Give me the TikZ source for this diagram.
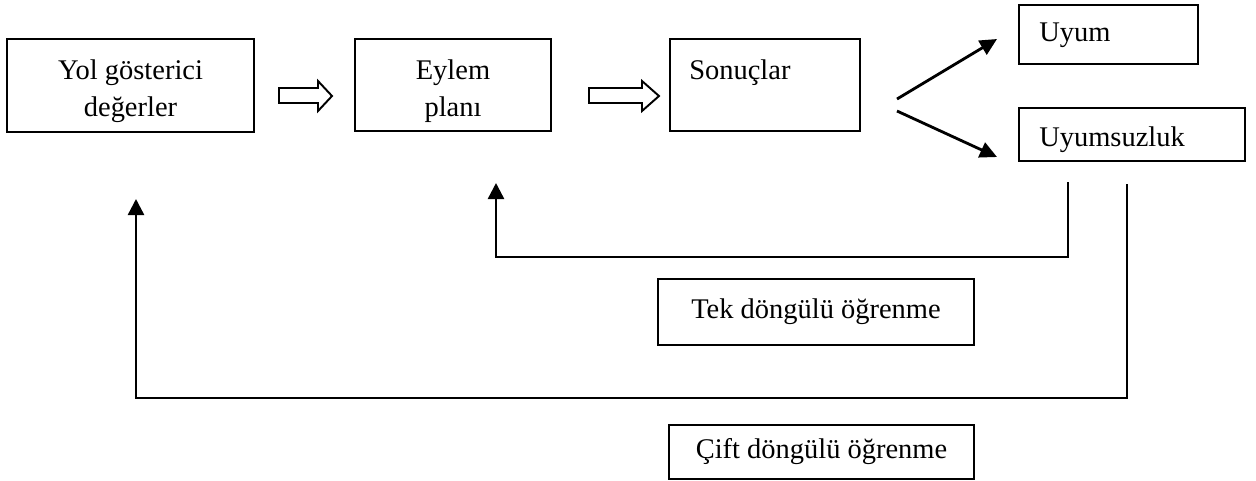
\documentclass[tikz,border=0pt]{standalone}
\usepackage{fontspec}
\setmainfont{Liberation Serif}
\usetikzlibrary{calc,arrows.meta,positioning}

\begin{document}
\begin{tikzpicture} [{box/.style={rectangle,draw=black,line width=1.2pt,inner sep=0pt,align=center,font=\fontsize{16.2}{21}\selectfont}},{txt/.style={inner sep=0pt,align=center,font=\fontsize{16.2}{21}\selectfont}},{fbk/.style={line width=1.4pt,-{Triangle[length=3.2mm,width=3.2mm]}}},{hollow/.style={draw=black,line width=1.1pt,fill=white}}]
	\useasboundingbox (0,0) rectangle (25.12,-9.6);
	%%boxes of the chain
	\node [box,minimum width=4.94cm,minimum height=1.86cm] (yol) at (2.61,-1.71) {};
	\node [txt] (yoltxt) at ($(yol.center)+(0,-0.12)$) {Yol gösterici\\değerler};
	\node [box,minimum width=3.92cm,minimum height=1.84cm] (eylem) at (9.06,-1.70) {};
	\node [txt] (eylemtxt) at ($(eylem.center)+(0,-0.12)$) {Eylem\\planı};
	\node [box,minimum width=3.80cm,minimum height=1.84cm] (son) at (15.30,-1.70) {};
	\node [txt,anchor=base west] (sontxt) at ($(son.north west)+(0.40,-0.84)$) {Sonuçlar};
	%%outcomes
	\node [box,minimum width=3.58cm,minimum height=1.18cm] (uyum) at (22.17,-0.69) {};
	\node [txt,anchor=base west] (uyumtxt) at ($(uyum.north west)+(0.42,-0.76)$) {Uyum};
	\node [box,minimum width=4.52cm,minimum height=1.06cm] (uyms) at (22.64,-2.69) {};
	\node [txt,anchor=base west] (uymstxt) at ($(uyms.north west)+(0.42,-0.80)$) {Uyumsuzluk};
	%%loop labels
	\node [box,minimum width=6.32cm,minimum height=1.32cm] (tek) at (16.32,-6.24) {Tek döngülü öğrenme};
	\node [box,minimum width=6.10cm,minimum height=1.08cm] (cift) at (16.43,-9.04) {Çift döngülü öğrenme};
	%%hollow arrows between boxes
	\foreach \a/\b/\c in {5.58/6.36/6.64, 11.78/12.84/13.18}
	\draw [hollow] (\a,-1.76) -- (\b,-1.76) -- (\b,-1.62) -- (\c,-1.92) -- (\b,-2.22) -- (\b,-2.06) -- (\a,-2.06) -- cycle;
	%%branches to Uyum / Uyumsuzluk
	\coordinate (up0) at (17.94,-1.98);
	\coordinate (up1) at (19.94,-0.78);
	\coordinate (dn0) at (17.94,-2.22);
	\coordinate (dn1) at (19.94,-3.14);
	\draw [line width=1.6pt,-{Triangle[length=3.4mm,width=3.2mm]}] (up0) -- (up1);
	\draw [line width=1.6pt,-{Triangle[length=3.4mm,width=3.2mm]}] (dn0) -- (dn1);
	%%single loop
	\coordinate (tek0) at (21.36,-3.64);
	\coordinate (tekb) at (9.92,-5.14);
	\coordinate (tek1) at (9.92,-3.66);
	\draw [fbk] (tek0) |- (tekb) -- (tek1);
	%%double loop
	\coordinate (cift0) at (22.54,-3.68);
	\coordinate (ciftb) at (2.72,-7.96);
	\coordinate (cift1) at (2.72,-3.98);
	\draw [fbk] (cift0) |- (ciftb) -- (cift1);
\end{tikzpicture}
\end{document}
